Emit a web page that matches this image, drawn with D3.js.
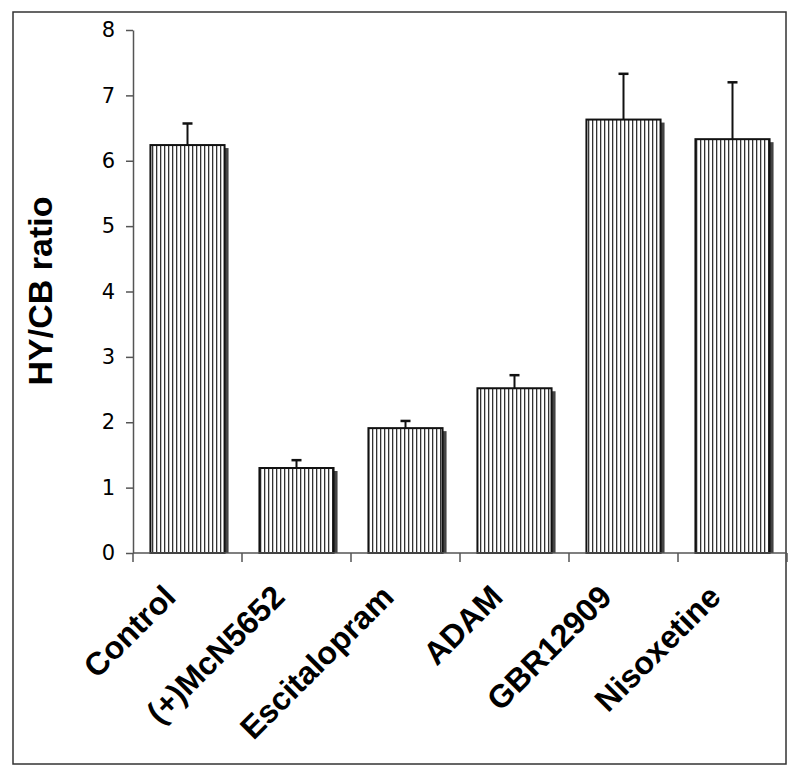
<!DOCTYPE html>
<html><head><meta charset="utf-8">
<script src="https://cdn.jsdelivr.net/npm/d3@7"></script>
<style>body{margin:0;background:#fff}svg{display:block}</style>
</head><body>
<script>
const categories = ["Control","(+)McN5652","Escitalopram","ADAM","GBR12909","Nisoxetine"];
const values = [6.24, 1.30, 1.91, 2.52, 6.63, 6.33];
const errors = [0.33, 0.12, 0.11, 0.20, 0.70, 0.87];
const yTicks = [0,1,2,3,4,5,6,7,8];
const yLabel = "HY/CB ratio";

const W = 800, H = 777;
const svg = d3.select("body").append("svg").attr("width", W).attr("height", H);

const defs = svg.append("defs");
const pat = defs.append("pattern").attr("id","stripes").attr("patternUnits","userSpaceOnUse")
  .attr("width",4).attr("height",8);
pat.append("rect").attr("width",4).attr("height",8).attr("fill","#fff");
pat.append("rect").attr("x",0).attr("width",1.3).attr("height",8).attr("fill","#333");

// outer frame
svg.append("rect").attr("x",13).attr("y",12).attr("width",773).attr("height",752)
  .attr("fill","none").attr("stroke","#333").attr("stroke-width",1.5);

const x = d3.scaleBand().domain(categories).range([133,787]).paddingInner(0.32).paddingOuter(0.16);
const y = d3.scaleLinear().domain([0,8]).range([553,30]);

const g = svg.append("g");

// shadows
g.selectAll(".shadow").data(categories).join("rect")
  .attr("x", d => x(d) + 4).attr("y", (d,i) => y(values[i]) + 3)
  .attr("width", x.bandwidth()).attr("height", (d,i) => y(0) - y(values[i]) - 3)
  .attr("fill","#444");
// bars
g.selectAll(".bar").data(categories).join("rect")
  .attr("x", d => x(d)).attr("y", (d,i) => y(values[i]))
  .attr("width", x.bandwidth()).attr("height", (d,i) => y(0) - y(values[i]))
  .attr("fill","url(#stripes)").attr("stroke","#111").attr("stroke-width",2);

// error bars
const eb = g.selectAll(".err").data(categories).join("g");
eb.append("line")
  .attr("x1", d => x(d) + x.bandwidth()/2).attr("x2", d => x(d) + x.bandwidth()/2)
  .attr("y1", (d,i) => y(values[i])).attr("y2", (d,i) => y(values[i] + errors[i]))
  .attr("stroke","#111").attr("stroke-width",2);
eb.append("line")
  .attr("x1", d => x(d) + x.bandwidth()/2 - 5).attr("x2", d => x(d) + x.bandwidth()/2 + 5)
  .attr("y1", (d,i) => y(values[i] + errors[i])).attr("y2", (d,i) => y(values[i] + errors[i]))
  .attr("stroke","#111").attr("stroke-width",2.5);

// y axis
const yAxis = svg.append("g").attr("transform","translate(133,0)")
  .call(d3.axisLeft(y).tickValues(yTicks).tickFormat(d3.format("d")).tickSize(7).tickSizeOuter(0).tickPadding(11));
yAxis.select(".domain").attr("stroke","#555").attr("stroke-width",1.5);
yAxis.selectAll(".tick line").attr("stroke","#555").attr("stroke-width",1.5);
yAxis.selectAll(".tick text").attr("font-family","'DejaVu Sans', Verdana, sans-serif")
  .attr("font-size",21).attr("fill","#000");

// x axis
const bounds = categories.map(d => x(d) - x.step()*x.paddingInner()/2).concat([787]);
bounds[0] = 133;
svg.append("line").attr("x1",133).attr("x2",787).attr("y1",y(0)).attr("y2",y(0))
  .attr("stroke","#555").attr("stroke-width",1.5);
svg.selectAll(".xtick").data(bounds).join("line")
  .attr("x1", d => d).attr("x2", d => d).attr("y1", y(0)).attr("y2", y(0) + 9)
  .attr("stroke","#555").attr("stroke-width",1.5);

svg.selectAll(".xlab").data(categories).join("text")
  .attr("transform", d => `translate(${x(d) + x.bandwidth()/2 - 10},599) rotate(-45)`)
  .attr("text-anchor","end")
  .attr("font-family","'Liberation Sans', Arial, sans-serif").attr("font-weight","bold")
  .attr("font-size",32).attr("fill","#000")
  .text(d => d);

svg.append("text")
  .attr("transform","translate(52,291) rotate(-90)")
  .attr("text-anchor","middle")
  .attr("font-family","'Liberation Sans', Arial, sans-serif").attr("font-weight","bold")
  .attr("font-size",34).attr("fill","#000")
  .text(yLabel);
</script>
</body></html>
